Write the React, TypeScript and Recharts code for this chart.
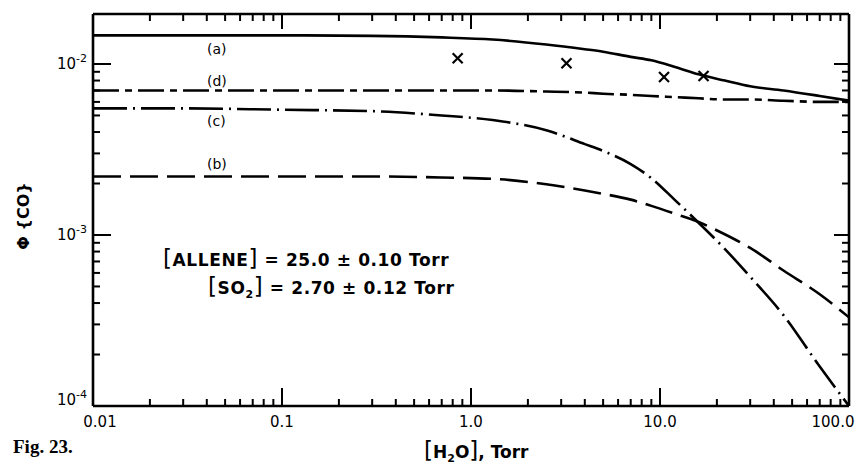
import React from 'react';
import { ComposedChart, Line, Scatter, XAxis, YAxis } from 'recharts';

// [H2O] in Torr, shared grid for all four curves
const h2o = [0.01, 0.03, 0.1, 0.3, 0.7, 1.3, 2.5, 4, 5, 7, 9, 12, 16, 22, 30, 45, 70, 100];

// quantum yield of CO for the four model curves
const curveA = [0.0147, 0.0147, 0.0147, 0.0146, 0.0143, 0.0139, 0.013, 0.0122, 0.0118, 0.011, 0.0105, 0.0096, 0.0087, 0.008, 0.0074, 0.007, 0.0065, 0.0061];
const curveB = [0.0022, 0.0022, 0.0022, 0.0022, 0.00217, 0.00213, 0.00198, 0.00182, 0.00174, 0.00161, 0.00148, 0.00133, 0.00119, 0.00101, 0.00084, 0.00062, 0.00045, 0.00033];
const curveC = [0.0055, 0.0055, 0.0054, 0.0053, 0.005, 0.0047, 0.0041, 0.0034, 0.0031, 0.0026, 0.00215, 0.0016, 0.00118, 0.00083, 0.00057, 0.00034, 0.00017, 0.0001];
const curveD = [0.007, 0.007, 0.007, 0.007, 0.007, 0.007, 0.0069, 0.0068, 0.0067, 0.0066, 0.0065, 0.0064, 0.0063, 0.0062, 0.0062, 0.0061, 0.006, 0.006];

// measured points (x marks)
const measH2o = [0.85, 3.2, 10.5, 17];
const measPhi = [0.0108, 0.0101, 0.0084, 0.0085];

const xMajor = [0.01, 0.1, 1, 10, 100];
const xMajorLabels = ['0.01', '0.1', '1.0', '10.0', '100.0'];
const yMajor = [0.0001, 0.001, 0.01];
const yMajorExp = ['-4', '-3', '-2'];
const minorSteps = [2, 3, 4, 5, 6, 7, 8, 9];

const X_DOMAIN: [number, number] = [0.01, 100];
const Y_DOMAIN: [number, number] = [0.0001, 0.0196];

const FONT = '"DejaVu Sans", sans-serif';

const xMinor = xMajor.slice(0, -1).flatMap((d) => minorSteps.map((m) => d * m));
const yMinor = yMajor.slice(0, -1).flatMap((d) => minorSteps.map((m) => d * m));

const toRows = (ys: number[]) => h2o.map((x, i) => ({ x, y: ys[i] }));
const measRows = measH2o.map((x, i) => ({ x, y: measPhi[i] }));

// tick mark anchors on each side of the frame
const onBottom = (vals: number[]) => vals.map((x) => ({ x, y: Y_DOMAIN[0] }));
const onTop = (vals: number[]) => vals.map((x) => ({ x, y: Y_DOMAIN[1] }));
const onLeft = (vals: number[]) => vals.map((y) => ({ x: X_DOMAIN[0], y }));
const onRight = (vals: number[]) => vals.map((y) => ({ x: X_DOMAIN[1], y }));

// inward tick mark drawn from the anchor point
const mark = (dx: number, dy: number, len: number) => (props: any) => {
  const { cx, cy } = props;
  return (
    <g>
      <line x1={cx} y1={cy} x2={cx + dx * len} y2={cy + dy * len} stroke="#000" strokeWidth={2} />
    </g>
  );
};

const labelIndex = (list: number[], v: number) =>
  list.findIndex((m) => Math.abs(Math.log10(v) - Math.log10(m)) < 1e-6);

const BottomLabel = (props: any) => {
  const { x, y, payload } = props;
  const idx = labelIndex(xMajor, payload.value);
  const shift = idx === 0 ? 7 : idx === xMajor.length - 1 ? -16 : 0;
  return (
    <text x={x + shift} y={y + 21} textAnchor="middle" fontFamily={FONT} fontSize={15} fill="#000">
      {xMajorLabels[idx]}
    </text>
  );
};

const LeftLabel = (props: any) => {
  const { x, y, payload } = props;
  const idx = labelIndex(yMajor, payload.value);
  return (
    <text x={x - 6} y={y + (idx === 0 ? -1 : 5)} textAnchor="end" fontFamily={FONT} fontSize={15} fill="#000">
      10<tspan dy={-7} fontSize={11}>{yMajorExp[idx]}</tspan>
    </text>
  );
};

const Cross = (props: any) => {
  const { cx, cy } = props;
  const s = 5;
  return (
    <g stroke="#000" strokeWidth={2.2}>
      <line x1={cx - s} y1={cy - s} x2={cx + s} y2={cy + s} />
      <line x1={cx - s} y1={cy + s} x2={cx + s} y2={cy - s} />
    </g>
  );
};

const axisLine = { stroke: '#000', strokeWidth: 2.6 };

const abs = (left: number, top: number, extra: React.CSSProperties = {}): React.CSSProperties => ({
  position: 'absolute', left, top, whiteSpace: 'nowrap', lineHeight: 1, fontFamily: FONT, color: '#000', ...extra,
});
const bracket: React.CSSProperties = { fontSize: 23, fontWeight: 400 };
const sub: React.CSSProperties = { fontSize: 11, position: 'relative', top: 4 };

const tickSeries = [
  { key: 'bMaj', data: onBottom(xMajor), shape: mark(0, -1, 18) },
  { key: 'bMin', data: onBottom(xMinor), shape: mark(0, -1, 7) },
  { key: 'tMaj', data: onTop(xMajor), shape: mark(0, 1, 15) },
  { key: 'tMin', data: onTop(xMinor), shape: mark(0, 1, 7) },
  { key: 'lMaj', data: onLeft(yMajor), shape: mark(1, 0, 18) },
  { key: 'lMin', data: onLeft(yMinor), shape: mark(1, 0, 7) },
  { key: 'rMaj', data: onRight(yMajor), shape: mark(-1, 0, 15) },
  { key: 'rMin', data: onRight(yMinor), shape: mark(-1, 0, 7) },
];

export default function App() {
  return (
    <div style={{ position: 'absolute', left: 0, top: 0, width: 858, height: 464, background: '#fff' }}>
      <ComposedChart width={858} height={464} margin={{ top: 0, right: 0, bottom: 0, left: 0 }}>
        <XAxis xAxisId="bottom" type="number" dataKey="x" scale="log" domain={X_DOMAIN} allowDataOverflow
          ticks={xMajor} interval={0} height={58} tickSize={0} tickMargin={0} tickLine={false}
          axisLine={axisLine} tick={<BottomLabel />} />
        <XAxis xAxisId="top" orientation="top" type="number" dataKey="x" scale="log" domain={X_DOMAIN} allowDataOverflow
          height={14} tickLine={false} tick={false} axisLine={axisLine} />
        <YAxis yAxisId="left" type="number" scale="log" domain={Y_DOMAIN} allowDataOverflow
          ticks={yMajor} interval={0} width={93} tickSize={0} tickMargin={0} tickLine={false}
          axisLine={axisLine} tick={<LeftLabel />} />
        <YAxis yAxisId="right" orientation="right" type="number" scale="log" domain={Y_DOMAIN} allowDataOverflow
          width={9} tickLine={false} tick={false} axisLine={axisLine} />
        {tickSeries.map((t) => (
          <Scatter key={t.key} xAxisId="bottom" yAxisId="left" data={t.data} dataKey="y"
            shape={<t.shape />} isAnimationActive={false} />
        ))}
        <Line xAxisId="bottom" yAxisId="left" data={toRows(curveA)} dataKey="y" type="monotone"
          stroke="#000" strokeWidth={2.6} dot={false} isAnimationActive={false} />
        <Line xAxisId="bottom" yAxisId="left" data={toRows(curveD)} dataKey="y" type="monotone"
          stroke="#000" strokeWidth={2.6} strokeDasharray="26 6 7 6" dot={false} isAnimationActive={false} />
        <Line xAxisId="bottom" yAxisId="left" data={toRows(curveC)} dataKey="y" type="monotone"
          stroke="#000" strokeWidth={2.6} strokeDasharray="34 6 2 6" dot={false} isAnimationActive={false} />
        <Line xAxisId="bottom" yAxisId="left" data={toRows(curveB)} dataKey="y" type="monotone"
          stroke="#000" strokeWidth={2.6} strokeDasharray="28 9" dot={false} isAnimationActive={false} />
        <Scatter xAxisId="bottom" yAxisId="left" data={measRows} dataKey="y" shape={<Cross />} isAnimationActive={false} />
      </ComposedChart>

      {/* curve labels */}
      <div style={abs(207, 42, { fontSize: 14 })}>(a)</div>
      <div style={abs(207, 74, { fontSize: 14 })}>(d)</div>
      <div style={abs(207, 114, { fontSize: 14 })}>(c)</div>
      <div style={abs(207, 157, { fontSize: 14 })}>(b)</div>

      {/* experimental conditions */}
      <div style={abs(163, 247, { fontSize: 17, fontWeight: 600, letterSpacing: 0.6 })}>
        <span style={bracket}>[</span>ALLENE<span style={bracket}>]</span> = 25.0 ± 0.10 Torr
      </div>
      <div style={abs(208, 275, { fontSize: 17, fontWeight: 600, letterSpacing: 0.6 })}>
        <span style={bracket}>[</span>SO<span style={sub}>2</span><span style={bracket}>]</span> = 2.70 ± 0.12 Torr
      </div>

      {/* axis titles */}
      <div style={abs(424, 439, { fontSize: 17, fontWeight: 600 })}>
        <span style={bracket}>[</span>H<span style={sub}>2</span>O<span style={bracket}>]</span>, Torr
      </div>
      <div style={abs(24, 216, { fontSize: 16, fontWeight: 600, transform: 'translate(-50%, -50%) rotate(-90deg)' })}>
        Φ {'{'}CO{'}'}
      </div>
      <div style={abs(13, 437, { fontSize: 19, fontWeight: 700, fontFamily: '"Liberation Serif", serif' })}>
        Fig. 23.
      </div>
    </div>
  );
}
